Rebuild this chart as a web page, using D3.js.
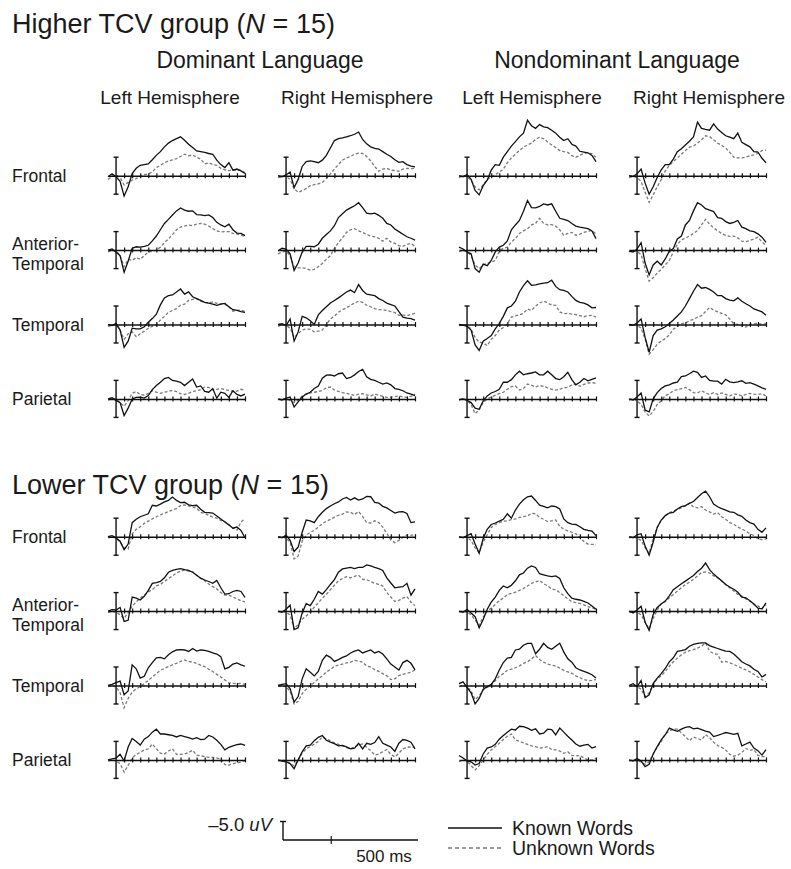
<!DOCTYPE html>
<html>
<head>
<meta charset="utf-8">
<script src="https://cdn.jsdelivr.net/npm/d3@7/dist/d3.min.js"></script>
<style>
  body { margin: 0; background: #fff; }
  svg text { font-family: "Liberation Sans", Arial, Helvetica, sans-serif; fill: #1a1a1a; }
</style>
</head>
<body>
<div id="chart"></div>
<script>
// Sample times (ms) shared by every waveform.
var times = [-100, -50, 0, 50, 100, 150, 200, 250, 300, 350, 400, 450, 500, 550, 600, 650, 700,
             750, 800, 850, 900, 950, 1000, 1050, 1100, 1150, 1200, 1250, 1300, 1350, 1400, 1450,
             1500, 1550, 1600];

var groups = ["Higher TCV group", "Lower TCV group"];
var groupN = [15, 15];
var languages = ["Dominant Language", "Nondominant Language"];
var hemispheres = ["Left Hemisphere", "Right Hemisphere"];
var regions = [["Frontal"], ["Anterior-", "Temporal"], ["Temporal"], ["Parietal"]];
var conditions = ["Known Words", "Unknown Words"];
var timeTicks = [100, 200, 300, 400, 500, 600, 700, 800, 900, 1000, 1100, 1200, 1300, 1400, 1500, 1600];

// Amplitudes in uV (negative plotted up). hi/lo = group, Dom/Non = language, L/R = hemisphere.
var hiDomL_frontal_known   = [0.3,-0.5,0.3,1.5,5.5,3,-0.6,-2,-2.8,-3,-3.2,-4.3,-5.5,-6.5,-7.8,-8.8,-9.5,-10,-10.5,-9.6,-8.5,-7.6,-6.7,-6.5,-6.3,-6,-5.8,-4.2,-3,-2.2,-3.5,-1.5,-1.8,-1.3,-0.6];
var hiDomL_frontal_unknown = [1,0.2,-0.2,0.5,2.5,1.8,1.2,0.8,0.2,-0.3,-0.5,-1,-2.2,-2.8,-3.5,-4,-4.3,-4.6,-5.2,-5.8,-5.4,-5.6,-5,-4.5,-3.2,-3.5,-3,-2.8,-2,-1.6,-1.4,-1.6,-1.4,-1.5,-0.8];
var hiDomR_frontal_known   = [0,0.3,-0.2,-1,3.2,1,-2.5,-3.8,-4,-3.8,-3.5,-4.2,-5.5,-7.5,-9.5,-10,-10.2,-10.5,-10.8,-11.2,-11.8,-9.8,-8.6,-7.8,-7.4,-7.2,-6.5,-5.8,-5.2,-4.3,-3.6,-3.8,-3,-2.6,-2.4];
var hiDomR_frontal_unknown = [0.5,0.3,0.2,1,3.5,4.5,4,3.5,2.7,2.4,2.2,1.8,0.8,-0.5,-1.8,-3,-4.2,-4.8,-5.2,-5.8,-6.1,-6,-5.2,-4,-2.5,-1.2,-1.8,-2,-1.5,-1.4,-1.2,-1.8,-2,-1.9,-2];
var hiDomL_antTemp_known   = [0,-0.3,0.5,1.5,6,3,-0.5,-0.9,-0.8,-1,-1.3,-2.5,-3.8,-5.5,-7.2,-8.3,-9.5,-10.6,-11.4,-10.8,-10.5,-10.6,-9.6,-9.5,-9.3,-9.5,-8.8,-7.5,-6.8,-6.3,-7,-5.5,-4.6,-4.5,-3.9];
var hiDomL_antTemp_unknown = [0.5,0,0.3,1.5,4.5,2.5,2.8,2,2.5,1.5,0.5,0.3,0,-0.8,-2,-3,-4.2,-5.5,-6.2,-6.5,-6.8,-6.6,-7,-7.2,-7,-6.5,-5.8,-5.2,-4.9,-5,-5,-4.5,-4.3,-4.1,-3.6];
var hiDomR_antTemp_known   = [0.2,-0.5,-0.3,1,5.5,3.5,0.5,-1,-1,-0.9,-1.6,-3.2,-4.2,-5.2,-6.6,-8.8,-9.8,-10.8,-11.4,-12,-12.8,-11.5,-10,-9.8,-10,-9.4,-8.6,-7.2,-6.8,-5.7,-5,-4.3,-3.6,-3.2,-2.7];
var hiDomR_antTemp_unknown = [1,0.5,0.3,1.5,4.5,4.8,4.8,5,5.4,5.2,4.5,3.6,2.5,1.5,-0.5,-2,-3.3,-4.8,-5.5,-5.8,-5.2,-4.8,-4.2,-3.8,-3.6,-3.2,-2.4,-3.2,-2.2,-1.8,-1.2,-1,-1.5,-1.8,-1];
var hiDomL_temporal_known   = [0,0.3,-0.3,1.5,6.2,4.5,1,1.2,1.2,0.6,-0.6,-1.6,-2.8,-5.3,-7.2,-7.8,-8,-8.8,-9.6,-8.2,-8.8,-7.5,-7,-6.5,-6,-5.8,-5.5,-5.2,-5.5,-5.7,-4.8,-4,-3.8,-3.5,-3.3];
var hiDomL_temporal_unknown = [0.5,0.2,0,1.5,4,2.5,2,3.3,2.5,1.8,1,0.5,0,-1.2,-2.2,-3.3,-3.8,-4.3,-5.2,-5.5,-6.5,-6.8,-7,-6.3,-6,-5.8,-6.1,-5.7,-5.6,-5.5,-4.8,-3.6,-3.8,-3.9,-3.5];
var hiDomR_temporal_known   = [0,-0.2,0.3,-1.5,4.5,2,-2.2,-1.8,-1,0,-2.6,-3.8,-4.8,-5.8,-6.5,-7.2,-8,-8.8,-9.3,-8.6,-10.8,-9.2,-8.2,-8,-7.8,-7,-6.5,-5.8,-5.4,-5,-3.5,-2,-1.7,-1.6,-1.2];
var hiDomR_temporal_unknown = [0.5,0,0.2,1,3.5,2.5,1.5,1.2,1.3,2,1.8,1.5,0,-1.5,-2.3,-3.3,-4,-4.5,-5.2,-5.8,-6.3,-6,-5.2,-4.8,-4.3,-4,-4,-3.8,-3.5,-3.2,-2.5,-2.6,-2.4,-2.7,-3];
var hiDomL_parietal_known   = [0,-0.3,0.4,1,4.5,2.5,0,-0.4,-0.5,-0.2,-0.9,-2.5,-3.6,-4.5,-5.5,-5.8,-5,-4.8,-4.5,-3.6,-4.5,-5.4,-3.2,-3.5,-2,-1.8,-2.8,-0.2,-1.8,-1.5,-0.4,-2.2,-1.2,-0.8,-1.3];
var hiDomL_parietal_unknown = [0.3,0,0,1,2,0.5,-1.5,-2,-1.2,-1,-1.5,-2.2,-1.8,-1.5,-1.8,-2,-2.3,-2,-1.4,-1.2,-1.5,-2,-2.2,-2.5,-3.2,-3.1,-2.4,-2.6,-2.8,-2.5,-2.3,-2,-2.1,-2.6,-2.3];
var hiDomR_parietal_known   = [0,0.3,-0.2,-0.5,2.2,0.8,-0.5,-1.3,-1.8,-2.8,-3.5,-5.6,-6.4,-6.5,-6.2,-6.8,-7,-5.5,-5.8,-6.5,-7.4,-8,-6,-5.3,-5,-4.5,-4,-4.3,-3.8,-2.8,-2.6,-2.2,-1.6,-1.3,-0.9];
var hiDomR_parietal_unknown = [0.2,0,0,0.5,1,0.3,-0.8,-1.3,-1.6,-1.8,-2,-2.3,-3,-3.2,-2.4,-2,-1.7,-1.5,-1.2,-0.9,-1.3,-1.4,-1.1,-0.8,-1.3,-1,-0.7,-0.4,-0.5,-0.6,-0.8,-0.5,-0.4,-0.7,-1.3];

var hiNonL_frontal_known   = [0,0.3,-0.3,1,4,5.2,2.7,1.2,-1.5,-3,-2.8,-5,-6.5,-8,-9.2,-10.5,-11.5,-15,-13.5,-12.8,-13.8,-13.2,-13,-12.3,-11.5,-10.4,-9.5,-10,-8.5,-8,-6.6,-6.4,-6.2,-5.5,-3.8];
var hiNonL_frontal_unknown = [0.5,0,0.2,1.2,3,3.8,2.5,1,0.3,-0.3,-1,-1.8,-3.5,-4.8,-5.8,-6.8,-7.7,-8.3,-8.8,-9.8,-10.4,-10,-9.1,-8.3,-7.6,-6.8,-6.5,-6.3,-5.4,-5,-5.5,-6,-6.3,-5.9,-5];
var hiNonR_frontal_known   = [0,0.2,-0.5,-1.8,2,5,3,0.5,-1.6,-3,-3,-4.5,-6.5,-7.3,-8.3,-9.3,-10.5,-14.5,-12.8,-12.5,-12.3,-14,-12.6,-11.7,-10.8,-10.4,-10,-11.5,-9,-8.4,-7.8,-6.5,-6.4,-4.7,-3.5];
var hiNonR_frontal_unknown = [0.5,0.2,0.5,1.5,4.5,7.2,5.2,3,1,-1.3,-2.8,-3.8,-4.8,-5.8,-6.8,-7.7,-8,-8.8,-9.7,-10.8,-10.6,-9.7,-8.8,-8.2,-7.5,-6.3,-5,-4.8,-4.8,-5,-5.4,-5.6,-6,-6.8,-6.9];
var hiNonL_antTemp_known   = [-0.8,-0.3,0.5,1,5,6,3.8,4.2,2.8,0.5,-0.8,-1.3,-2.5,-5.5,-6.8,-8,-10.5,-13.4,-11.5,-11.4,-11.8,-12.5,-12.2,-12.5,-10.5,-8.6,-8.3,-8,-7.2,-6.5,-6.2,-6,-5.8,-5.2,-3.1];
var hiNonL_antTemp_unknown = [0.4,0,0.5,1.5,4,5,4,3.6,3.2,2.8,0.3,-0.5,-0.8,-2.2,-3.1,-4.5,-5.2,-5.8,-6.8,-7.2,-8.6,-7.2,-6.8,-6.9,-6.5,-5.5,-4,-4.5,-4.8,-4,-4.3,-4.8,-5.1,-5.3,-4.4];
var hiNonR_antTemp_known   = [0.3,0.5,-0.3,-2,3.5,6.7,4,3,4,2.4,0.3,-0.4,-3,-3.8,-6.8,-8,-10.6,-12.8,-12.2,-11.2,-10.8,-10.4,-8.8,-8.6,-7.7,-7.2,-7.5,-8,-6.2,-5.8,-5.2,-5,-4.4,-3.5,-2.1];
var hiNonR_antTemp_unknown = [0.5,0,0.4,1.2,5,8.4,7.5,6.2,5.2,4,2.8,0.5,-1.5,-2.8,-3.2,-3.8,-4.5,-5.3,-6.8,-8.3,-7,-6,-5.2,-4.5,-4,-3.7,-3.8,-3.3,-2.4,-2.3,-2.6,-3,-3.5,-2.2,-1.3];
var hiNonL_temporal_known   = [0,0.2,0.5,1.5,5.5,7,4.5,3.8,3,1.2,-0.3,-2.2,-4.5,-5,-6.3,-8.8,-10.5,-11.8,-10.6,-10.7,-11,-11.2,-11.3,-12,-10.3,-9.4,-9.2,-8.8,-7.6,-6.5,-6,-5.8,-5.3,-4.5,-4.6];
var hiNonL_temporal_unknown = [0.3,0,0.3,1.2,3.5,4.8,5,5.7,4,3,1.5,0.8,-0.2,-2,-2.3,-2.6,-3,-4.2,-3.8,-5,-5.8,-6.3,-5.8,-5.3,-5.2,-3.4,-2.9,-3,-2.8,-2.7,-2.4,-2.1,-2.4,-2.5,-2];
var hiNonR_temporal_known   = [0,0.2,-0.4,-1.5,3.5,7.5,3,1.5,1.2,0.6,-0.3,-1.2,-2.3,-3.4,-5,-7,-9,-10.8,-9.8,-10,-9.5,-8.8,-7.8,-7.8,-7,-6.6,-6.4,-7.2,-6.3,-5.6,-5,-4.2,-3.8,-3.4,-2.5];
var hiNonR_temporal_unknown = [0.3,0,0.2,1,4,8,6.8,5.3,4.5,3.8,2.8,1.3,0.4,-0.2,-0.4,-1,-1.4,-2,-2.4,-3.5,-4.6,-3.9,-3.4,-3,-2.6,-1.5,-0.2,0,0.4,0.7,0,-0.2,-0.3,0,-0.2];
var hiNonL_parietal_known   = [0.2,0,0.4,1,2.5,2.8,0.5,-0.8,-1.6,-2,-2.6,-4.5,-4.5,-5.2,-6.5,-7.5,-6.5,-6.8,-7,-7.3,-6.5,-6.5,-7.5,-6.5,-5.5,-5.2,-6,-7.2,-5.2,-3.8,-4.5,-5.5,-4.9,-5.3,-5.7];
var hiNonL_parietal_unknown = [0.3,0,0.3,1.5,4,3,1,0,-0.5,-1,-1.4,-1.8,-2.6,-3.3,-3.5,-2.4,-2.8,-4,-3.7,-3.2,-3.6,-3.4,-3,-2.6,-2.4,-2.6,-3,-3.1,-3.8,-4,-3.4,-3.9,-4.3,-4.4,-4.2];
var hiNonR_parietal_known   = [0,0.3,-0.5,-1.6,3,3.5,0,-1.7,-2.8,-3.5,-3.8,-4.3,-4.5,-6,-6.2,-6.8,-7.5,-7.2,-5.8,-6.2,-5,-4.8,-4.8,-4,-5.3,-4.6,-4.4,-4.6,-4.9,-4.2,-4.4,-4,-3.5,-3,-2.6];
var hiNonR_parietal_unknown = [0.3,0,0.5,1.5,3.5,4.6,3.4,1.5,0.5,-0.9,-1.4,-2.2,-2.5,-2.8,-3.1,-2.5,-1.7,-1.6,-2.2,-1.6,-1.2,-1.7,-1.2,-1.6,-1.2,-0.8,-1.3,-1.2,-0.8,-1.2,-1.5,-1.3,-1.2,-1.4,-0.8];

var loDomL_frontal_known   = [0,-0.3,0.3,1.2,3.5,2,-3.8,-4.7,-5.4,-5.8,-6.2,-8.5,-8.3,-8.8,-9.4,-9.8,-10.7,-9.8,-9.2,-9.3,-8.6,-8.4,-8.5,-7.4,-6.6,-6.5,-6.4,-5.6,-4.8,-4,-3.2,-2.3,-2.6,-1.7,0.3];
var loDomL_frontal_unknown = [0.3,0,0.4,1.5,3,3.3,-0.8,-2,-2.7,-3.6,-4.2,-4.8,-5.4,-5.9,-6.3,-6.8,-7.2,-7.6,-8.4,-8.6,-8.3,-8,-7.7,-6.6,-6.3,-5.8,-5.3,-5,-4.4,-4.1,-3.2,-2.3,-1.8,-4,-4.9];
var loDomR_frontal_known   = [0,0.3,-0.4,1,4,2.8,-1.2,-4.5,-4.3,-3.8,-5.4,-6.6,-7.6,-8.3,-8.9,-9.4,-10.2,-10.6,-9.9,-10.5,-9.9,-10.2,-10.9,-10.8,-9.3,-9.1,-8.2,-7.8,-7.1,-6.4,-6.7,-6.8,-6.3,-3.8,-4];
var loDomR_frontal_unknown = [0.3,0,0.4,1.5,6,5.2,1.2,-0.4,-1.2,-1.7,-2.6,-3.5,-4.2,-4.7,-5.3,-5.8,-6.1,-6.7,-6.6,-6,-6.8,-5.5,-3.8,-3.7,-4.3,-3.8,-2.6,-0.9,0.9,1.6,1,0.2,-0.5,-0.4,-0.4];
var loDomL_antTemp_known   = [0,-0.4,-0.3,-1,2.8,2.5,-3.8,-3.5,-3,-4,-5.6,-7.5,-7.7,-8,-9,-10.5,-11,-11.3,-11.5,-11.2,-11,-10.5,-9.7,-8.9,-8.4,-8,-7.5,-8.3,-6.3,-4.6,-4.7,-5.3,-5.6,-5.3,-3.7];
var loDomL_antTemp_unknown = [0.4,0,0.3,1,2,0.4,-1.3,-2.5,-3.5,-4.3,-5.2,-5.8,-6.8,-7.2,-8,-8.8,-9.5,-10.3,-10.8,-11.1,-10.8,-10.6,-9.7,-8.8,-8.2,-7.3,-6.6,-6,-5,-4.3,-4.3,-3.8,-3.3,-2.8,-2.5];
var loDomR_antTemp_known   = [0,0.3,-0.5,-1.6,5,4.5,0.5,-2,-1.5,-3.2,-5.3,-4.6,-5.8,-7.2,-8.5,-10.5,-11.4,-11.6,-11.8,-11.5,-11.8,-11.8,-12.5,-12.2,-11.8,-11.5,-11,-9,-7.6,-6.3,-6.5,-6.6,-7.5,-4.3,-6];
var loDomR_antTemp_unknown = [0.3,0,0.4,1,4.8,3.6,2.2,1.3,0.4,-1.1,-2.2,-3.5,-4.5,-5.8,-7,-8.2,-8.8,-9.3,-9,-9.4,-9.7,-8.6,-8.5,-8,-7.5,-7.2,-6.8,-5,-3.8,-2.6,-2.9,-3.5,-3.9,-2.4,-1.5];
var loDomL_temporal_known   = [0,-0.3,-0.8,-1.2,2.5,1.5,-5.6,-4.5,-2,-2.5,-4.8,-6.2,-7.5,-7.6,-7.2,-8.3,-9.1,-9.6,-9.7,-9.6,-9.2,-10,-9.3,-9.6,-9.5,-9.2,-8.8,-8.5,-7.8,-4.5,-4.9,-5.8,-6.1,-5.6,-5.2];
var loDomL_temporal_unknown = [0.3,0,0.4,2,6,3.5,1.8,0.9,0.3,-0.5,-1.4,-2.3,-3.2,-4.1,-4.6,-5.1,-5.6,-6,-6.5,-6.9,-6.5,-6.3,-6,-5.5,-5.1,-4.4,-3.8,-3,-2.3,-1.5,-0.7,-0.6,-0.5,-0.6,-0.3];
var loDomR_temporal_known   = [0,-0.3,-0.5,0.8,4.5,3,-1.8,-4.5,-3.6,-2.6,-3.8,-6.8,-8.2,-7.6,-6.5,-7,-7.6,-8,-8.8,-9.3,-9.6,-8.8,-9.2,-9.6,-8.8,-9.2,-8.5,-7.2,-5.8,-5,-4.2,-6.2,-6.8,-6,-4.2];
var loDomR_temporal_unknown = [0.3,0,0.4,1.5,5,4.3,2.2,1,0,-0.8,-1.8,-2.6,-3.7,-4.3,-5.2,-5.5,-5.8,-6.1,-6.3,-6.8,-6.6,-6.3,-5.3,-5,-4.3,-3.8,-3.2,-2.6,-1.6,-1.8,-2.7,-3,-3.3,-3.6,-4.2];
var loDomL_parietal_known   = [0,-0.3,-0.5,-1.5,0.3,-3.5,-5.8,-5,-4,-5.6,-6.3,-7.5,-8.3,-7,-7,-6.8,-6.6,-6.2,-6.6,-6.3,-6,-5.6,-6,-5.5,-5.6,-6.6,-6.2,-5.3,-4.2,-2.7,-3.4,-3.8,-4.1,-4.3,-3.9];
var loDomL_parietal_unknown = [0.3,0,0.3,1,3.3,1.5,-0.5,-1.5,-2,-2.7,-3,-4.3,-3,-1.8,-1.6,-2.4,-3,-1.5,-1.5,-1.6,-2,-2.6,-1.3,-1.1,-0.9,-0.7,-0.7,-0.5,-0.3,1.3,1.4,1,0.8,0.6,0.2];
var loDomR_parietal_known   = [0,0.3,0.5,1,2.4,0,-2.2,-3.8,-4,-5.2,-6.1,-6.6,-5.3,-4.8,-4.4,-3.8,-3.9,-3.5,-3,-3.2,-4.5,-3,-4.5,-4.2,-4.7,-6.3,-4.5,-4,-3.5,-2.3,-4.5,-5.5,-5.3,-4.8,-3];
var loDomR_parietal_unknown = [0.3,0,0.3,1,1.6,0.2,-1.8,-3,-3.6,-4.3,-5,-6.2,-5.6,-5.2,-4.6,-4.2,-3.8,-3.3,-3,-3.5,-4,-4.3,-3.4,-2.5,-1.3,-1.6,-2.2,-2.8,-1.5,-0.8,-1.8,-3,-3.4,-3.5,-3.4];

var loNonL_frontal_known   = [0,0.3,-0.3,-0.8,2,4.5,0.5,-2,-3.3,-3.7,-4.2,-4.7,-6.2,-5,-7.2,-8.8,-10,-10.8,-11,-9.8,-8.5,-8.2,-7.8,-8.3,-8.1,-7.5,-4.8,-3.8,-3.4,-3.3,-2.7,-2,-1.7,-1.5,-0.3];
var loNonL_frontal_unknown = [0.3,0,0.3,1,3,4.3,1.5,-0.5,-2.5,-3.3,-3.8,-4.2,-4.3,-4.6,-4.8,-5.2,-5.4,-5.6,-6.3,-6.2,-5.2,-4.7,-4.1,-4.3,-4.5,-2.8,-2,-1.6,-1.2,-0.8,0.2,1.3,2,2.1,2.1];
var loNonR_frontal_known   = [0,0.3,-0.5,-0.8,2.5,5,1.5,-2.5,-4.5,-5.7,-6.4,-6.6,-7.5,-8.1,-8.4,-9,-9.5,-10.6,-11.6,-12.3,-10.8,-8.8,-8.1,-7.6,-7.2,-6.7,-6.6,-5.9,-5.5,-4.5,-3.8,-3.4,-2,-1.2,-2.4];
var loNonR_frontal_unknown = [0.3,0,0.4,1,3,4.5,0.5,-2.5,-4.4,-5.6,-6.5,-6.9,-7.4,-7.8,-8.3,-9.1,-8,-7.8,-8.1,-7.2,-6.7,-6.1,-6.5,-5.4,-4.7,-3.8,-3.4,-2.6,-2.1,-1.5,-0.8,-0.3,0.6,0.8,0.6];
var loNonL_antTemp_known   = [0,0.3,-0.5,0.5,1.5,4.5,2.3,-0.5,-2.4,-3.8,-5.6,-6.8,-6.3,-7,-8.2,-9.8,-10.3,-11.6,-12.2,-11.8,-10.1,-9.8,-9.5,-9.3,-9.5,-8.8,-6.3,-4.7,-3.5,-3.2,-3,-2.6,-2.2,-1.4,-0.5];
var loNonL_antTemp_unknown = [0.3,0,0.3,1,2.4,3.8,1.6,0,-0.8,-1.8,-2.8,-3.5,-4.5,-4.8,-5.1,-5.6,-6.1,-6.8,-7.5,-7.9,-8.3,-7.4,-6.8,-5.9,-5.8,-5,-4.2,-3.3,-2.5,-2.3,-2.1,-1.7,-1.2,-0.9,-0.5];
var loNonR_antTemp_known   = [0,0.5,-0.3,-1.3,3,5.2,0.9,-1,-1.9,-2.7,-4.1,-5.8,-6.6,-7.4,-8.1,-8.9,-9.6,-10.7,-11.6,-13,-11.2,-10,-9.1,-8.2,-7.2,-6.5,-5.9,-5.1,-3.8,-3.6,-2.8,-1.9,-0.8,-0.6,-2.2];
var loNonR_antTemp_unknown = [0.3,0,0.3,1,3,4.8,2,-0.3,-2,-2.6,-3.6,-4.5,-5.4,-6.3,-7.2,-7.8,-8.6,-9.5,-10.4,-10.6,-10.3,-9.5,-9,-8.1,-7.2,-6.3,-5.4,-4.5,-4,-3.3,-2.7,-1.8,-1.4,-0.6,-1.8];
var loNonL_temporal_known   = [-0.5,-1,0.5,2,5,3.5,1,0.3,-0.3,-1.8,-4.2,-6.2,-7.4,-7.6,-9.6,-9.8,-10.9,-11.4,-11.4,-8.6,-9.8,-11.4,-10.3,-9.8,-10.6,-11.4,-9.1,-7.2,-6.3,-4.8,-4.2,-3.8,-3.4,-2.9,-2];
var loNonL_temporal_unknown = [0.3,0,0.3,1.5,3.8,2.8,1.2,0.5,-0.2,-1.3,-2.5,-3.2,-4.1,-4.4,-4.8,-5.3,-6,-6.4,-7.2,-8.1,-7,-6.3,-5.8,-5.5,-5.3,-4.7,-4.1,-3.7,-3.3,-2.6,-2.1,-1.6,-1.3,-1.4,-1.6];
var loNonR_temporal_known   = [0,-0.5,0.3,-1.3,3.3,2.5,-0.5,-2,-3.2,-4.6,-6.4,-7.5,-9.2,-9.4,-9.7,-10.6,-11.1,-11.4,-11.5,-11.5,-10.8,-10.4,-10,-9.6,-9.3,-9.2,-8.5,-7.5,-6.4,-5.8,-5.3,-4.4,-3.8,-2.3,-3];
var loNonR_temporal_unknown = [0.3,0,0.3,1,3,2,-0.4,-1.8,-2.6,-3.8,-5.2,-6.4,-7.4,-8.3,-9,-9.4,-9.7,-10.1,-10.6,-11.5,-9.3,-8.6,-8.4,-6.3,-6.5,-6.1,-5.7,-5.2,-4.7,-4.2,-3.7,-3,-2.3,-1.6,-1];
var loNonL_parietal_known   = [-1.2,-0.5,0.3,0.5,1.4,1,-1.6,-3.2,-3.5,-4.2,-5.6,-6.6,-7.5,-8.3,-8.1,-9.1,-9,-8.6,-8,-8.4,-7,-7.2,-8.3,-8.2,-6.8,-8.6,-7.5,-6.4,-5.4,-4.3,-3.7,-4,-4.2,-3.2,-3.6];
var loNonL_parietal_unknown = [0.5,0,0.3,1.5,2.7,1.6,0,-1.5,-2.7,-3.6,-4.5,-5.5,-6.4,-7,-5.4,-5,-4.6,-4.2,-3.8,-3.6,-3.2,-3.3,-3.6,-2.8,-2.7,-2.4,-1.8,-2.2,-1.2,-1.1,-1.2,-0.5,0,0,-0.4];
var loNonR_parietal_known   = [0,0.3,-0.4,0.3,1.8,1.2,-1.6,-3.6,-5.4,-6.8,-8.6,-8.1,-7.7,-8.3,-8.8,-9,-8.4,-8.6,-8.2,-7.8,-7.5,-6.3,-6.6,-7,-7.4,-7.2,-6.9,-7.2,-3.8,-4.3,-4.8,-3.2,-2.5,-1.3,-2.8];
var loNonR_parietal_unknown = [0.3,0,0.3,0.5,1.2,0.5,-1.6,-3.5,-5,-7,-7.8,-8.3,-8.3,-7.3,-6.3,-5.2,-6.2,-5.8,-5.4,-6.8,-6,-4.8,-3.9,-3.4,-2.7,-1.5,-1,-1.3,-2,-3.1,-2.6,-2.8,-1.2,-0.9,-0.9];

// panel table: [group, language, hemisphere, region, known, unknown]
var panels = [
  [0,0,0,0, hiDomL_frontal_known, hiDomL_frontal_unknown],
  [0,0,1,0, hiDomR_frontal_known, hiDomR_frontal_unknown],
  [0,0,0,1, hiDomL_antTemp_known, hiDomL_antTemp_unknown],
  [0,0,1,1, hiDomR_antTemp_known, hiDomR_antTemp_unknown],
  [0,0,0,2, hiDomL_temporal_known, hiDomL_temporal_unknown],
  [0,0,1,2, hiDomR_temporal_known, hiDomR_temporal_unknown],
  [0,0,0,3, hiDomL_parietal_known, hiDomL_parietal_unknown],
  [0,0,1,3, hiDomR_parietal_known, hiDomR_parietal_unknown],
  [0,1,0,0, hiNonL_frontal_known, hiNonL_frontal_unknown],
  [0,1,1,0, hiNonR_frontal_known, hiNonR_frontal_unknown],
  [0,1,0,1, hiNonL_antTemp_known, hiNonL_antTemp_unknown],
  [0,1,1,1, hiNonR_antTemp_known, hiNonR_antTemp_unknown],
  [0,1,0,2, hiNonL_temporal_known, hiNonL_temporal_unknown],
  [0,1,1,2, hiNonR_temporal_known, hiNonR_temporal_unknown],
  [0,1,0,3, hiNonL_parietal_known, hiNonL_parietal_unknown],
  [0,1,1,3, hiNonR_parietal_known, hiNonR_parietal_unknown],
  [1,0,0,0, loDomL_frontal_known, loDomL_frontal_unknown],
  [1,0,1,0, loDomR_frontal_known, loDomR_frontal_unknown],
  [1,0,0,1, loDomL_antTemp_known, loDomL_antTemp_unknown],
  [1,0,1,1, loDomR_antTemp_known, loDomR_antTemp_unknown],
  [1,0,0,2, loDomL_temporal_known, loDomL_temporal_unknown],
  [1,0,1,2, loDomR_temporal_known, loDomR_temporal_unknown],
  [1,0,0,3, loDomL_parietal_known, loDomL_parietal_unknown],
  [1,0,1,3, loDomR_parietal_known, loDomR_parietal_unknown],
  [1,1,0,0, loNonL_frontal_known, loNonL_frontal_unknown],
  [1,1,1,0, loNonR_frontal_known, loNonR_frontal_unknown],
  [1,1,0,1, loNonL_antTemp_known, loNonL_antTemp_unknown],
  [1,1,1,1, loNonR_antTemp_known, loNonR_antTemp_unknown],
  [1,1,0,2, loNonL_temporal_known, loNonL_temporal_unknown],
  [1,1,1,2, loNonR_temporal_known, loNonR_temporal_unknown],
  [1,1,0,3, loNonL_parietal_known, loNonL_parietal_unknown],
  [1,1,1,3, loNonR_parietal_known, loNonR_parietal_unknown]
];

var width = 791, height = 869;
var colX = [108, 278, 459, 629];         // left edge of each panel column
var panelW = 137;
var groupTop = [175.7, 536.7];           // baseline of first row in each group
var rowStep = 74.4;
var knownColour = "#111", unknownColour = "#7a7a7a";

var x = d3.scaleLinear().domain([-100, 1600]).range([0, panelW]);
var y = d3.scaleLinear().domain([-5, 5]).range([-18.5, 18.5]);   // negative up

var line = d3.line()
    .x(function(d, i) { return x(times[i]); })
    .y(function(d) { return y(d); });

var svg = d3.select("#chart").append("svg")
    .attr("width", width)
    .attr("height", height);

// group titles
groups.forEach(function(g, gi) {
    var t = svg.append("text")
        .attr("x", 12)
        .attr("y", gi === 0 ? 33 : 494)
        .style("font-size", "27px");
    t.append("tspan").text(g + " (");
    t.append("tspan").style("font-style", "italic").text("N");
    t.append("tspan").text(" = " + groupN[gi] + ")");

    // row labels
    regions.forEach(function(lines, ri) {
        var base = groupTop[gi] + ri * rowStep;
        lines.forEach(function(s, li) {
            svg.append("text")
                .attr("x", 12)
                .attr("y", base + 6 + (lines.length > 1 ? (li === 0 ? -6 : 14) : 0))
                .style("font-size", "17.5px")
                .text(s);
        });
    });
});

// language and hemisphere headers
var langCentre = [260, 617];
languages.forEach(function(l, i) {
    svg.append("text")
        .attr("x", langCentre[i])
        .attr("y", 68)
        .attr("text-anchor", "middle")
        .style("font-size", "23px")
        .text(l);
});
var hemiCentre = [170, 357, 532, 709];
hemiCentre.forEach(function(cx, i) {
    svg.append("text")
        .attr("x", cx)
        .attr("y", 104)
        .attr("text-anchor", "middle")
        .style("font-size", "19px")
        .text(hemispheres[i % 2]);
});

// panels
var axis = d3.axisBottom(x)
    .tickValues(timeTicks)
    .tickSizeInner(2.5)
    .tickSizeOuter(0)
    .tickFormat("");

panels.forEach(function(p) {
    var col = p[1] * 2 + p[2];
    var base = groupTop[p[0]] + p[3] * rowStep;
    var g = svg.append("g")
        .attr("transform", "translate(" + colX[col] + "," + base + ")");

    g.append("path")
        .attr("d", line(p[5]))
        .attr("fill", "none")
        .attr("stroke", unknownColour)
        .attr("stroke-width", 1.3)
        .attr("stroke-dasharray", "3,2");

    g.append("path")
        .attr("d", line(p[4]))
        .attr("fill", "none")
        .attr("stroke", knownColour)
        .attr("stroke-width", 1.3);

    var ax = g.append("g").call(axis);
    ax.select(".domain").attr("stroke", "#111").attr("stroke-width", 1.5);
    ax.selectAll(".tick line").attr("y1", -2.5).attr("stroke", "#111").attr("stroke-width", 1.2);

    // +-5 uV calibration bar at stimulus onset
    var x0 = x(0);
    g.append("line")
        .attr("x1", x0).attr("x2", x0)
        .attr("y1", y(-5)).attr("y2", y(5))
        .attr("stroke", "#111").attr("stroke-width", 1.4);
    [-5, 5].forEach(function(v) {
        g.append("line")
            .attr("x1", x0 - 2.5).attr("x2", x0 + 2.5)
            .attr("y1", y(v)).attr("y2", y(v))
            .attr("stroke", "#111").attr("stroke-width", 1.4);
    });
});

// scale legend
var lx = d3.scaleLinear().domain([0, 1400]).range([283, 418]);
var ly = d3.scaleLinear().domain([-5, 0]).range([821.5, 840]);
var scale = svg.append("g");
scale.append("line")
    .attr("x1", lx(0)).attr("x2", lx(0))
    .attr("y1", ly(-5)).attr("y2", ly(0))
    .attr("stroke", "#111").attr("stroke-width", 1.4);
scale.append("line")
    .attr("x1", lx(0) - 3).attr("x2", lx(0) + 3)
    .attr("y1", ly(-5)).attr("y2", ly(-5))
    .attr("stroke", "#111").attr("stroke-width", 1.4);
scale.append("line")
    .attr("x1", lx(0)).attr("x2", lx(1400))
    .attr("y1", ly(0)).attr("y2", ly(0))
    .attr("stroke", "#111").attr("stroke-width", 1.4);
scale.append("line")
    .attr("x1", lx(500)).attr("x2", lx(500))
    .attr("y1", ly(0) - 4).attr("y2", ly(0) + 4)
    .attr("stroke", "#111").attr("stroke-width", 1.2);

var uv = svg.append("text")
    .attr("x", 272)
    .attr("y", 831)
    .attr("text-anchor", "end")
    .style("font-size", "18.5px");
uv.append("tspan").text("\u20135.0 ");
uv.append("tspan").style("font-style", "italic").text("uV");

svg.append("text")
    .attr("x", 384)
    .attr("y", 862)
    .attr("text-anchor", "middle")
    .style("font-size", "17px")
    .text("500 ms");

// condition legend
conditions.forEach(function(c, i) {
    var yy = 828 + i * 20;
    svg.append("line")
        .attr("x1", 448).attr("x2", 502)
        .attr("y1", yy).attr("y2", yy)
        .attr("stroke", i === 0 ? knownColour : unknownColour)
        .attr("stroke-width", 1.3)
        .attr("stroke-dasharray", i === 0 ? null : "4,3");
    svg.append("text")
        .attr("x", 512)
        .attr("y", yy + 6.5)
        .style("font-size", "19.5px")
        .text(c);
});
</script>
</body>
</html>
